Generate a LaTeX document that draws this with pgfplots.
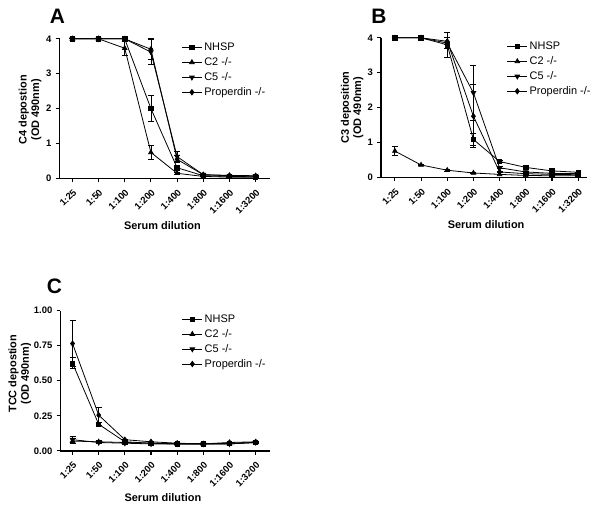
\documentclass[border=0pt]{standalone}
\usepackage{pgfplots}
\pgfplotsset{compat=1.18}
\usepackage{fontspec}
\setmainfont{Liberation Sans}
\begin{document}
\pgfplotsset{
  panel/.style={
    scale only axis,
    axis lines=left,
    axis line style={-, line width=1.3pt},
    xtick={0,1,2,3,4,5,6,7},
    xticklabels={1:25,1:50,1:100,1:200,1:400,1:800,1:1600,1:3200},
    xticklabel style={rotate=45, anchor=north east, font=\bfseries\fontsize{9.5}{10}\selectfont, inner sep=1pt},
    xticklabel shift=5pt,
    yticklabel style={font=\bfseries\fontsize{9.5}{10}\selectfont, inner sep=1pt},
    yticklabel shift=3pt,
    tick style={black, line width=1.1pt},
    major tick length=4pt,
    tick align=outside,
    ymin=0,
    clip=false,
    xlabel={Serum dilution},
    xlabel style={font=\bfseries\fontsize{11}{12}\selectfont, anchor=center},
    ylabel style={font=\bfseries\fontsize{11}{12.5}\selectfont, align=center, anchor=center},
    legend cell align=left,
    legend style={draw=none, fill=none, anchor=north west, font=\fontsize{11}{13}\selectfont, row sep=1.5pt, inner sep=0pt},
    legend image code/.code={\draw[mark repeat=2,mark phase=2,line width=0.9pt] plot coordinates {(0pt,0pt)(10pt,0pt)(20pt,0pt)};},
    every axis plot/.append style={black, line width=0.8pt},
    error bars/y dir=both,
    error bars/y explicit,
    error bars/error bar style={line width=0.8pt, black},
    error bars/error mark options={rotate=90, mark size=3pt, line width=0.8pt, black},
  },
  nhsp/.style={mark=square*, mark size=2.2pt, mark options={solid, fill=black}},
  ctwo/.style={mark=triangle*, mark size=2.6pt, mark options={solid, fill=black}},
  cfive/.style={mark=triangle*, mark size=2.6pt, mark options={solid, fill=black, rotate=180}},
  prop/.style={mark=diamond*, mark size=2.6pt, mark options={solid, fill=black}},
}
\begin{tikzpicture}[x=1pt,y=1pt]
\path[use as bounding box] (0,0) rectangle (598,507);
\node[font=\bfseries\fontsize{21}{21}\selectfont] at (55,491) {A};
\node[font=\bfseries\fontsize{21}{21}\selectfont] at (378,491) {B};
\node[font=\bfseries\fontsize{21}{21}\selectfont] at (52,219) {C};

% Panel A
\begin{axis}[panel, at={(57pt,328pt)}, anchor=south west, width=211pt, height=140pt,
  xmin=-0.49, xmax=7.53, ymax=4,
  ytick={0,1,2,3,4}, yticklabels={0,1,2,3,4},
  ylabel={C4 depostion\\(OD 490nm)},
  ylabel style={at={(axis description cs:-0.14,0.49)}},
  xlabel style={at={(axis description cs:0.49,-0.34)}},
  legend style={at={(axis description cs:0.58,0.985)}}]
\addplot[nhsp] coordinates {(0,4) +- (0,0) (1,4) +- (0,0) (2,4) +- (0,0) (3,2.0) +- (0,0.37) (4,0.3) +- (0,0.05) (5,0.07) +- (0,0.01) (6,0.05) +- (0,0.01) (7,0.04) +- (0,0.01)};
\addlegendentry{NHSP}
\addplot[ctwo] coordinates {(0,4) +- (0,0) (1,4) +- (0,0) (2,3.73) +- (0,0.2) (3,0.74) +- (0,0.2) (4,0.14) +- (0,0.03) (5,0.05) +- (0,0.01) (6,0.03) +- (0,0.01) (7,0.03) +- (0,0.01)};
\addlegendentry{C2 -/-}
\addplot[cfive] coordinates {(0,4) +- (0,0) (1,4) +- (0,0) (2,4) +- (0,0) (3,3.62) +- (0,0.35) (4,0.62) +- (0,0.15) (5,0.1) +- (0,0.02) (6,0.07) +- (0,0.01) (7,0.06) +- (0,0.01)};
\addlegendentry{C5 -/-}
\addplot[prop] coordinates {(0,4) +- (0,0) (1,4) +- (0,0) (2,4) +- (0,0) (3,3.7) +- (0,0.3) (4,0.54) +- (0,0.1) (5,0.1) +- (0,0.02) (6,0.08) +- (0,0.01) (7,0.07) +- (0,0.01)};
\addlegendentry{Properdin -/-}
\end{axis}

% Panel B
\begin{axis}[panel, at={(380pt,329pt)}, anchor=south west, width=207pt, height=140pt,
  xmin=-0.53, xmax=7.34, ymax=4,
  ytick={0,1,2,3,4}, yticklabels={0,1,2,3,4},
  ylabel={C3 deposition\\(OD 490nm)},
  ylabel style={at={(axis description cs:-0.14,0.5)}},
  xlabel style={at={(axis description cs:0.51,-0.34)}},
  legend style={at={(axis description cs:0.61,0.985)}}]
\addplot[nhsp] coordinates {(0,4) +- (0,0) (1,4) +- (0,0) (2,3.8) +- (0,0.35) (3,1.08) +- (0,0.18) (4,0.45) +- (0,0.03) (5,0.28) +- (0,0.02) (6,0.18) +- (0,0.02) (7,0.14) +- (0,0.01)};
\addlegendentry{NHSP}
\addplot[ctwo] coordinates {(0,0.75) +- (0,0.12) (1,0.35) +- (0,0.02) (2,0.2) +- (0,0.02) (3,0.12) +- (0,0.01) (4,0.08) +- (0,0.01) (5,0.05) +- (0,0.01) (6,0.04) +- (0,0.01) (7,0.04) +- (0,0.01)};
\addlegendentry{C2 -/-}
\addplot[cfive] coordinates {(0,4) +- (0,0) (1,4) +- (0,0) (2,3.85) +- (0,0.15) (3,2.42) +- (0,0.78) (4,0.27) +- (0,0.03) (5,0.15) +- (0,0.02) (6,0.11) +- (0,0.01) (7,0.1) +- (0,0.01)};
\addlegendentry{C5 -/-}
\addplot[prop] coordinates {(0,4) +- (0,0) (1,4) +- (0,0) (2,3.9) +- (0,0.1) (3,1.75) +- (0,0.9) (4,0.15) +- (0,0.02) (5,0.1) +- (0,0.01) (6,0.08) +- (0,0.01) (7,0.07) +- (0,0.01)};
\addlegendentry{Properdin -/-}
\end{axis}

% Panel C
\begin{axis}[panel, at={(58pt,54pt)}, anchor=south west, width=210pt, height=141pt,
  xmin=-0.46, xmax=7.53, ymax=1,
  ytick={0,0.25,0.5,0.75,1}, yticklabels={0.00,0.25,0.50,0.75,1.00},
  ylabel={TCC depostion\\(OD 490nm)},
  ylabel style={at={(axis description cs:-0.195,0.55)}},
  xlabel style={at={(axis description cs:0.49,-0.33)}},
  legend style={at={(axis description cs:0.58,0.985)}}]
\addplot[nhsp] coordinates {(0,0.625) +- (0,0.04) (1,0.19) +- (0,0.01) (2,0.065) +- (0,0.005) (3,0.055) +- (0,0.005) (4,0.05) +- (0,0.005) (5,0.05) +- (0,0.005) (6,0.055) +- (0,0.005) (7,0.06) +- (0,0.005)};
\addlegendentry{NHSP}
\addplot[ctwo] coordinates {(0,0.07) +- (0,0.02) (1,0.065) +- (0,0.012) (2,0.06) +- (0,0.005) (3,0.055) +- (0,0.005) (4,0.05) +- (0,0.005) (5,0.05) +- (0,0.005) (6,0.05) +- (0,0.005) (7,0.06) +- (0,0.005)};
\addlegendentry{C2 -/-}
\addplot[cfive] coordinates {(0,0.08) +- (0,0.025) (1,0.06) +- (0,0.01) (2,0.055) +- (0,0.005) (3,0.05) +- (0,0.005) (4,0.05) +- (0,0.005) (5,0.05) +- (0,0.005) (6,0.05) +- (0,0.005) (7,0.06) +- (0,0.005)};
\addlegendentry{C5 -/-}
\addplot[prop] coordinates {(0,0.765) +- (0,0.165) (1,0.255) +- (0,0.055) (2,0.08) +- (0,0.005) (3,0.065) +- (0,0.005) (4,0.055) +- (0,0.005) (5,0.05) +- (0,0.005) (6,0.06) +- (0,0.005) (7,0.065) +- (0,0.005)};
\addlegendentry{Properdin -/-}
\end{axis}
\end{tikzpicture}
\end{document}
